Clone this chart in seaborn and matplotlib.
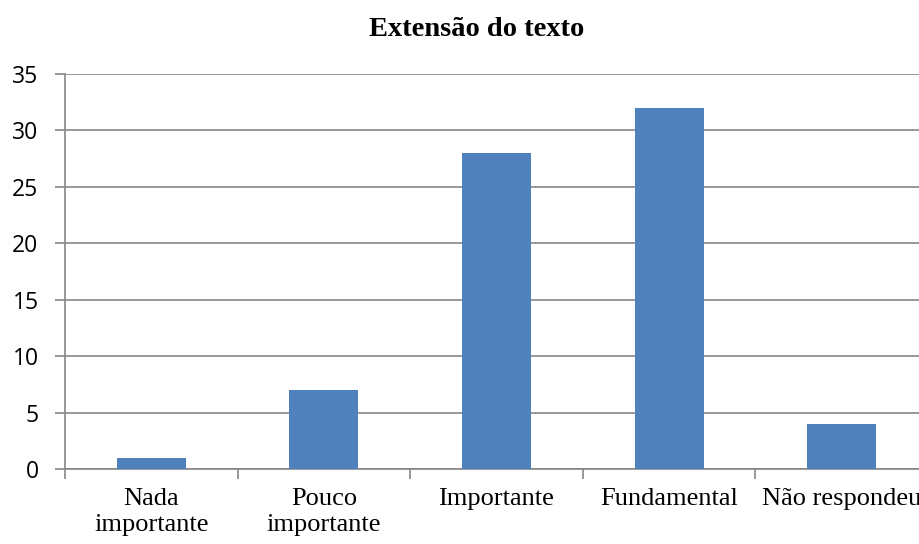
import matplotlib
matplotlib.use("Agg")
import matplotlib.pyplot as plt
import seaborn as sns
import pandas as pd
import numpy as np

# ── Data ──────────────────────────────────────────────────────────────────────
categories = ["Nada\nimportante", "Pouco\nimportante", "Importante", "Fundamental", "Não respondeu"]
values = [1, 7, 28, 32, 4]
yticks = [0, 5, 10, 15, 20, 25, 30, 35]

df = pd.DataFrame({"cat": categories, "val": values})

sns.set_theme(style="white")
plt.rcParams["font.family"] = ["Liberation Serif", "DejaVu Serif"]
plt.rcParams["text.color"] = "black"
plt.rcParams["xtick.color"] = "black"
plt.rcParams["ytick.color"] = "black"

GRID = "#868686"

fig = plt.figure(figsize=(9.2, 5.44), dpi=100)
ax = fig.add_axes([65 / 920, 75 / 544, 855 / 920, 395 / 544])

sns.barplot(data=df, x="cat", y="val", color="#4F81BD", width=0.4,
            saturation=1, linewidth=0, ax=ax, zorder=3)

ax.set_ylim(0, 35)
ax.set_xlim(-0.5, 4.454)
ax.set_yticks(yticks)
ax.set_yticklabels([str(t) for t in yticks], family="Open Sans", fontsize=16.5)
ax.yaxis.grid(True, color=GRID, linewidth=1.2, zorder=0)
ax.set_axisbelow(True)

# category boundary ticks on x
ax.set_xticks(np.arange(-0.5, 4.5, 1.0), minor=True)
ax.tick_params(axis="x", which="minor", bottom=True, length=7, color=GRID, width=1.2)
ax.tick_params(axis="x", which="major", bottom=False, length=0, pad=14, labelsize=19,
               labelcolor="black")
ax.tick_params(axis="y", left=True, length=7, color=GRID, width=1.2, pad=12,
               labelcolor="black")

for lbl in ax.get_xticklabels():
    lbl.set_linespacing(1.2)

ax.set_xlabel("")
ax.set_ylabel("")

for side in ["top", "right"]:
    ax.spines[side].set_visible(False)
for side in ["left", "bottom"]:
    ax.spines[side].set_color(GRID)
    ax.spines[side].set_linewidth(1.2)

fig.text(477 / 920, 1 - 29 / 544, "Extensão do texto", ha="center", va="center",
         fontsize=20.5, fontweight="bold", color="black")

fig.savefig("out.png", dpi=100)
